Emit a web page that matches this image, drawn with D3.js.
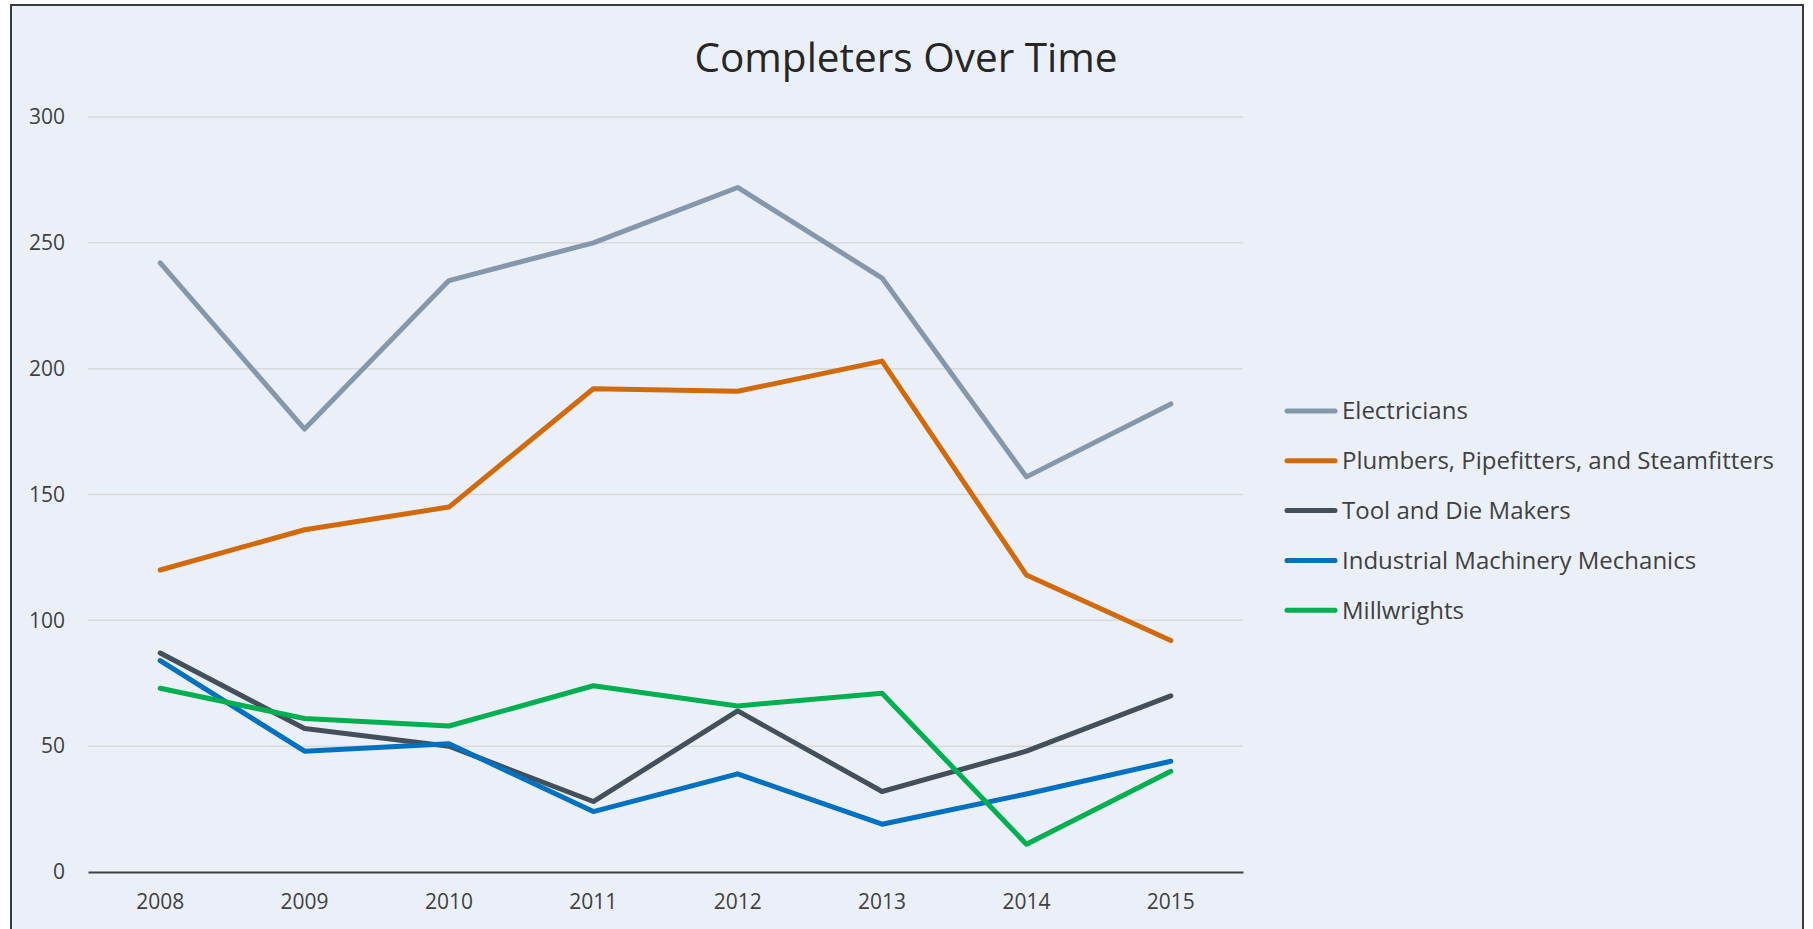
<!DOCTYPE html>
<html>
<head>
<meta charset="utf-8">
<script src="https://cdn.jsdelivr.net/npm/d3@7"></script>
<style>
  html, body { margin: 0; padding: 0; background: #ffffff; }
  svg { display: block; }
</style>
</head>
<body>
<svg id="chart" width="1813" height="929"></svg>
<script>
const years = ["2008", "2009", "2010", "2011", "2012", "2013", "2014", "2015"];
const electricians = [242, 176, 235, 250, 272, 236, 157, 186];
const plumbers = [120, 136, 145, 192, 191, 203, 118, 92];
const toolDie = [87, 57, 50, 28, 64, 32, 48, 70];
const industrial = [84, 48, 51, 24, 39, 19, 31, 44];
const millwrights = [73, 61, 58, 74, 66, 71, 11, 40];
const seriesNames = ["Electricians", "Plumbers, Pipefitters, and Steamfitters", "Tool and Die Makers", "Industrial Machinery Mechanics", "Millwrights"];
const seriesColors = ["#8497AB", "#D2690A", "#444F5C", "#0070C0", "#00B050"];
const yTicks = [0, 50, 100, 150, 200, 250, 300];

const series = [electricians, plumbers, toolDie, industrial, millwrights].map((v, i) => ({
  name: seriesNames[i], color: seriesColors[i], values: v
}));

const svg = d3.select("#chart");
const font = "'Open Sans', 'Noto Sans', sans-serif";

// chart area background + border
svg.append("rect")
  .attr("x", 11).attr("y", 5).attr("width", 1792).attr("height", 940)
  .attr("fill", "#EBF0F8").attr("stroke", "#3a3a3a").attr("stroke-width", 2);

const plot = { left: 88, right: 1243, top: 117, bottom: 872 };

const x = d3.scaleBand().domain(years).range([plot.left, plot.right]).padding(0);
const y = d3.scaleLinear().domain([0, 300]).range([plot.bottom, plot.top]);

// gridlines
svg.append("g")
  .selectAll("line").data(yTicks.filter(t => t > 0)).join("line")
  .attr("x1", plot.left).attr("x2", plot.right)
  .attr("y1", d => y(d)).attr("y2", d => y(d))
  .attr("stroke", "#D9D9D9").attr("stroke-width", 1.5);

// y axis labels
const yAxis = d3.axisLeft(y).tickValues(yTicks).tickSize(0).tickPadding(0);
const yg = svg.append("g").attr("transform", `translate(${plot.left - 23},0)`).call(yAxis);
yg.select(".domain").remove();
yg.selectAll("text").attr("font-family", font).attr("font-size", 21).attr("fill", "#404040");

// x axis
const xAxis = d3.axisBottom(x).tickSize(0).tickPadding(22);
const xg = svg.append("g").attr("transform", `translate(0,${plot.bottom})`).call(xAxis);
xg.select(".domain").attr("stroke", "#404040").attr("stroke-width", 2);
xg.selectAll("text").attr("font-family", font).attr("font-size", 21).attr("fill", "#404040");

// lines
const line = d3.line()
  .x((d, i) => x(years[i]) + x.bandwidth() / 2)
  .y(d => y(d));

svg.append("g").selectAll("path").data(series).join("path")
  .attr("d", d => line(d.values))
  .attr("fill", "none")
  .attr("stroke", d => d.color)
  .attr("stroke-width", 5)
  .attr("stroke-linejoin", "round")
  .attr("stroke-linecap", "round");

// title
svg.append("text")
  .attr("x", 906).attr("y", 72)
  .attr("text-anchor", "middle")
  .attr("font-family", font).attr("font-size", 40.5)
  .attr("fill", "#262626")
  .text("Completers Over Time");

// legend
const legendTop = 411, legendStep = 49.8;
const lg = svg.append("g").selectAll("g").data(series).join("g")
  .attr("transform", (d, i) => `translate(1285,${legendTop + i * legendStep})`);
lg.append("line")
  .attr("x1", 2).attr("x2", 50).attr("y1", 0).attr("y2", 0)
  .attr("stroke", d => d.color).attr("stroke-width", 5).attr("stroke-linecap", "round");
lg.append("text")
  .attr("x", 57).attr("y", 0).attr("dy", "0.35em")
  .attr("font-family", font).attr("font-size", 24)
  .attr("fill", "#404040")
  .text(d => d.name);
</script>
</body>
</html>
